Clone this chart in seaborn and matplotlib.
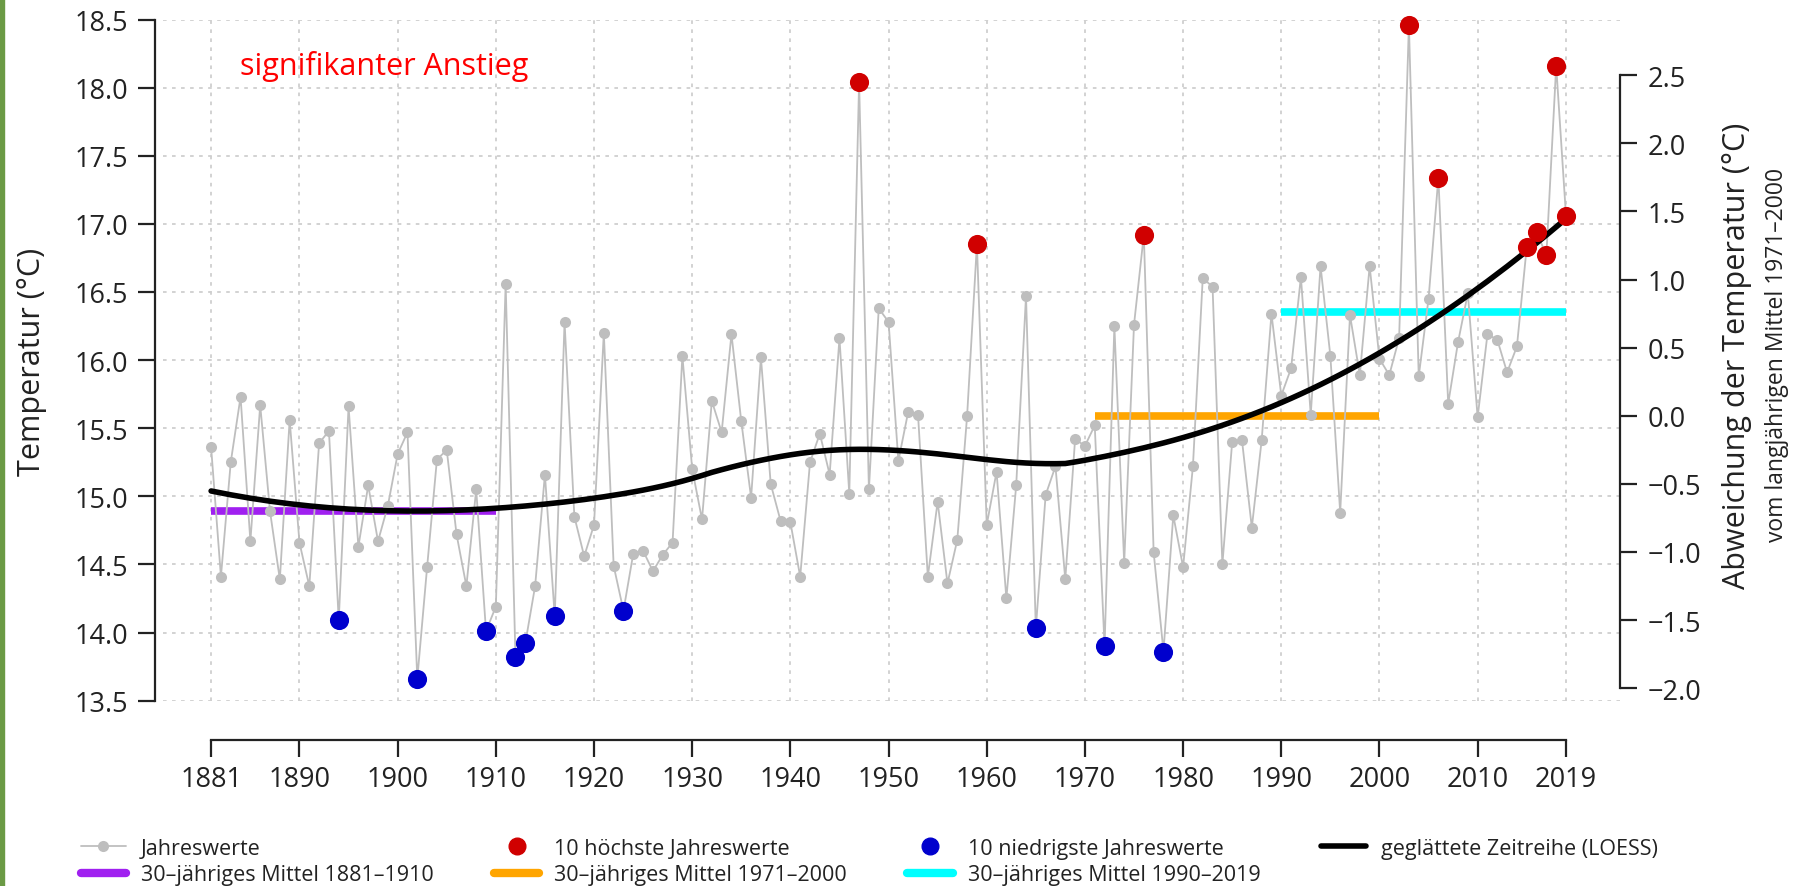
import numpy as np
import pandas as pd
import matplotlib
matplotlib.use('Agg')
import matplotlib.pyplot as plt
import seaborn as sns
from matplotlib.lines import Line2D
from matplotlib.patches import Rectangle

# Jahresmitteltemperatur 1881-2019
years = np.arange(1881, 2020)
temps = [15.36, 14.41, 15.25, 15.73, 14.67, 15.67, 14.89, 14.39, 15.56, 14.66,
         14.34, 15.39, 15.48, 14.09, 15.66, 14.63, 15.08, 14.67, 14.93, 15.31,
         15.47, 13.66, 14.48, 15.27, 15.34, 14.72, 14.34, 15.05, 14.01, 14.19,
         16.56, 13.82, 13.92, 14.34, 15.16, 14.12, 16.28, 14.85, 14.56, 14.79,
         16.20, 14.49, 14.16, 14.58, 14.60, 14.45, 14.57, 14.66, 16.03, 15.20,
         14.83, 15.70, 15.47, 16.19, 15.55, 14.99, 16.02, 15.09, 14.82, 14.81,
         14.41, 15.25, 15.46, 15.16, 16.16, 15.02, 18.04, 15.05, 16.38, 16.28,
         15.26, 15.62, 15.60, 14.41, 14.96, 14.36, 14.68, 15.59, 16.85, 14.79,
         15.18, 14.25, 15.08, 16.47, 14.03, 15.01, 15.22, 14.39, 15.42, 15.37,
         15.52, 13.90, 16.25, 14.51, 16.26, 16.92, 14.59, 13.86, 14.86, 14.48,
         15.22, 16.60, 16.54, 14.50, 15.40, 15.41, 14.77, 15.41, 16.34, 15.74,
         15.94, 16.61, 15.60, 16.69, 16.03, 14.88, 16.33, 15.89, 16.69, 16.01,
         15.89, 16.16, 18.46, 15.88, 16.45, 17.34, 15.68, 16.13, 16.49, 15.58,
         16.19, 16.15, 15.91, 16.10, 16.83, 16.94, 16.77, 18.16, 17.06]

year_ticks = [1881, 1890, 1900, 1910, 1920, 1930, 1940, 1950, 1960, 1970,
              1980, 1990, 2000, 2010, 2019]
temp_ticks = [13.5, 14.0, 14.5, 15.0, 15.5, 16.0, 16.5, 17.0, 17.5, 18.0, 18.5]
dev_ticks = [-2.0, -1.5, -1.0, -0.5, 0.0, 0.5, 1.0, 1.5, 2.0, 2.5]
periods = [(1881, 1910), (1971, 2000), (1990, 2019)]
period_colors = ['#A020F0', '#FFA500', '#00FFFF']


def loess(x, y, span=0.75):
    # lokale quadratische Regression mit Tricube-Gewichten
    x = np.asarray(x, float)
    y = np.asarray(y, float)
    n = len(x)
    q = int(np.floor(span * n))
    fit = []
    for x0 in x:
        d = np.abs(x - x0)
        h = np.sort(d)[q - 1]
        w = np.clip(1 - (d / h) ** 3, 0, None) ** 3
        X = np.vstack([np.ones(n), x - x0, (x - x0) ** 2]).T
        sw = np.sqrt(w)
        beta = np.linalg.lstsq(X * sw[:, None], y * sw, rcond=None)[0]
        fit.append(beta[0])
    return np.array(fit)


df = pd.DataFrame({'Jahr': years, 'Temperatur': temps})
df['LOESS'] = loess(df['Jahr'], df['Temperatur'], span=0.75)
top10 = df.nlargest(10, 'Temperatur')
low10 = df.nsmallest(10, 'Temperatur')
ref = df[(df['Jahr'] >= 1971) & (df['Jahr'] <= 2000)]['Temperatur'].mean()

sns.set_style('white')
plt.rcParams['font.family'] = ['Open Sans', 'DejaVu Sans']

fig = plt.figure(figsize=(17.96, 8.87), dpi=100)
fig.add_artist(Rectangle((0, 0), 4 / 1796, 1, transform=fig.transFigure,
                         color='#6b9a45', zorder=0))
ax = fig.add_axes([163 / 1796, 185.4 / 887, 1457 / 1796, 681 / 887])

ax.set_xlim(1876.1, 2024.5)
ax.set_ylim(13.5, 18.5)
ax.set_xticks(year_ticks)
ax.set_yticks(temp_ticks)
ax.set_yticklabels([f'{t:.1f}' for t in temp_ticks])
ax.grid(True, color='#cfcfcf', linestyle=(0, (2, 3)), linewidth=1.3)
ax.set_axisbelow(True)

for (start, end), col in zip(periods, period_colors):
    m = df[(df['Jahr'] >= start) & (df['Jahr'] <= end)]['Temperatur'].mean()
    ax.hlines(m, start, end, color=col, linewidth=5.5, zorder=2)

sns.lineplot(data=df, x='Jahr', y='Temperatur', ax=ax, color='#BEBEBE',
             linewidth=1.3, marker='o', markersize=8, markeredgewidth=0,
             zorder=3, clip_on=False)
sns.lineplot(data=df, x='Jahr', y='LOESS', ax=ax, color='black',
             linewidth=4, zorder=4)
sns.scatterplot(data=top10, x='Jahr', y='Temperatur', ax=ax, color='#D00000',
                s=190, linewidth=0, zorder=5, clip_on=False)
sns.scatterplot(data=low10, x='Jahr', y='Temperatur', ax=ax, color='#0000CD',
                s=190, linewidth=0, zorder=5, clip_on=False)

ax.set_xlabel('')
ax.set_ylabel('')
for s in ['top', 'right']:
    ax.spines[s].set_visible(False)
ax.spines['left'].set_position(('outward', 5.8))
ax.spines['left'].set_bounds(13.5, 18.5)
ax.spines['bottom'].set_position(('outward', 28.4))
ax.spines['bottom'].set_bounds(1881, 2019)
for s in ['left', 'bottom']:
    ax.spines[s].set_linewidth(1.6)
    ax.spines[s].set_color('#222222')
ax.tick_params(axis='both', direction='out', length=12, width=1.6,
               colors='#222222', labelsize=19.5, pad=6,
               bottom=True, left=True)
ax.tick_params(axis='y', pad=7)

ax2 = ax.twinx()
ax2.set_ylim(13.5 - ref, 18.5 - ref)
ax2.set_yticks(dev_ticks)
ax2.set_yticklabels([f'{t:.1f}'.replace('-', '\u2212') for t in dev_ticks])
ax2.grid(False)
for s in ['top', 'left', 'bottom']:
    ax2.spines[s].set_visible(False)
ax2.spines['right'].set_bounds(-2.0, 2.5)
ax2.spines['right'].set_linewidth(1.6)
ax2.spines['right'].set_color('#222222')
ax2.tick_params(axis='y', direction='out', length=12, width=1.6,
                colors='#222222', labelsize=19.5, pad=8, right=True)

fig.text(240 / 1796, 1 - 66 / 887, 'signifikanter Anstieg', color='#FF0000',
         fontsize=22, va='center', ha='left')
fig.text(32 / 1796, 1 - 362 / 887, 'Temperatur (°C)', rotation=90,
         fontsize=22, va='center', ha='center', color='#222222')
fig.text(1737 / 1796, 1 - 356 / 887, 'Abweichung der Temperatur (°C)',
         rotation=90, fontsize=22, va='center', ha='center', color='#222222')
fig.text(1777 / 1796, 1 - 355 / 887, 'vom langjährigen Mittel 1971–2000',
         rotation=90, fontsize=16.5, va='center', ha='center', color='#222222')

handles = [
    Line2D([], [], color='#BEBEBE', linewidth=1.3, marker='o', markersize=8,
           markeredgewidth=0),
    Line2D([], [], color=period_colors[0], linewidth=6),
    Line2D([], [], linestyle='none', marker='o', color='#D00000', markersize=12),
    Line2D([], [], color=period_colors[1], linewidth=6),
    Line2D([], [], linestyle='none', marker='o', color='#0000CD', markersize=12),
    Line2D([], [], color=period_colors[2], linewidth=6),
    Line2D([], [], color='black', linewidth=4),
]
labels = ['Jahreswerte', '30–jähriges Mittel 1881–1910',
          '10 höchste Jahreswerte', '30–jähriges Mittel 1971–2000',
          '10 niedrigste Jahreswerte', '30–jähriges Mittel 1990–2019',
          'geglättete Zeitreihe (LOESS)']
fig.legend(handles, labels, ncol=4, loc='upper left',
           bbox_to_anchor=(70 / 1796, 1 - 828 / 887), frameon=False,
           fontsize=15.5, handlelength=2.1, handletextpad=0.7,
           columnspacing=2.8, labelspacing=0.25, borderpad=0,
           labelcolor='#222222')

fig.savefig('out.png', dpi=100, facecolor='white')
